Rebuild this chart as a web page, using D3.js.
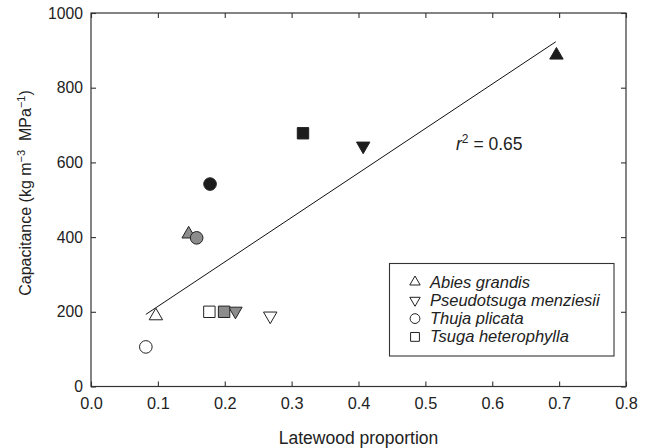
<!DOCTYPE html>
<html><head><meta charset="utf-8">
<script src="https://cdn.jsdelivr.net/npm/d3@7"></script>
<style>
body{margin:0;background:#fff;}
svg{display:block;}
svg text{font-family:"Liberation Sans",Arial,sans-serif;}
</style></head>
<body><svg id="c" width="651" height="448"></svg>
<script>
// ---- data ----
const species = ["Abies grandis", "Pseudotsuga menziesii", "Thuja plicata", "Tsuga heterophylla"];
const groups = ["open", "grey", "black"];
const pointLatewood    = [0.097, 0.146, 0.696, 0.268, 0.216, 0.407, 0.082, 0.158, 0.178, 0.177, 0.199, 0.317];
const pointCapacitance = [189,   408,   887,   189,   202,   644,   106,   398,   542,   200,   200,   678];
const pointSpecies     = [0,     0,     0,     1,     1,     1,     2,     2,     2,     3,     3,     3];
const pointGroup       = [0,     1,     2,     0,     1,     2,     0,     1,     2,     0,     1,     2];
const fitX = [0.082, 0.695];
const fitY = [193, 923];
const xTicks = [0, 0.1, 0.2, 0.3, 0.4, 0.5, 0.6, 0.7, 0.8];
const yTicks = [0, 200, 400, 600, 800, 1000];
const r2Label = "0.65";

// ---- layout ----
const svg = d3.select("#c");
const L = 91, R = 626, T = 13, B = 386.5;
const x = d3.scaleLinear().domain([0, 0.8]).range([L, R]);
const y = d3.scaleLinear().domain([0, 1000]).range([B, T]);
const fills = {open: "#ffffff", grey: "#8c8c8c", black: "#1c1c1c"};
const textCol = "#222";
const FF = "'Liberation Sans', Arial, sans-serif";

const symType = [d3.symbolTriangle, d3.symbolTriangle, d3.symbolCircle, d3.symbolSquare];
const symRot = [0, 180, 0, 0];
const symSize = [78, 78, 125, 130];

// axes
const gx = svg.append("g").attr("transform", `translate(0,${B})`)
  .call(d3.axisBottom(x).tickValues(xTicks).tickFormat(d3.format(".1f")).tickSizeInner(-5).tickSizeOuter(0).tickPadding(11));
const gy = svg.append("g").attr("transform", `translate(${L},0)`)
  .call(d3.axisLeft(y).tickValues(yTicks).tickFormat(d3.format("d")).tickSizeInner(-5).tickSizeOuter(0).tickPadding(8));
const gxt = svg.append("g").attr("transform", `translate(0,${T})`)
  .call(d3.axisTop(x).tickValues(xTicks).tickFormat("").tickSizeInner(-5).tickSizeOuter(0));
const gyr = svg.append("g").attr("transform", `translate(${R},0)`)
  .call(d3.axisRight(y).tickValues(yTicks).tickFormat("").tickSizeInner(-5).tickSizeOuter(0));
[gx, gy, gxt, gyr].forEach(g => {
  g.attr("font-family", FF);
  g.select(".domain").remove();
  g.selectAll("line").attr("stroke", "#333").attr("stroke-width", 1.1);
  g.selectAll("text").attr("fill", textCol);
});
gx.selectAll("text").style("font-size", "16.3px");
gy.selectAll("text").style("font-size", "15.7px");
svg.append("rect").attr("x", L).attr("y", T).attr("width", R - L).attr("height", B - T)
  .attr("fill", "none").attr("stroke", "#333").attr("stroke-width", 1.2);

// regression line
svg.append("line")
  .attr("x1", x(fitX[0])).attr("y1", y(fitY[0]))
  .attr("x2", x(fitX[1])).attr("y2", y(fitY[1]))
  .attr("stroke", "#111").attr("stroke-width", 1);

// points
const pts = pointLatewood.map((v, i) => ({x: v, y: pointCapacitance[i], s: pointSpecies[i], g: pointGroup[i]}));
svg.append("g").selectAll("path").data(pts).join("path")
  .attr("d", d => d3.symbol(symType[d.s], symSize[d.s])())
  .attr("transform", d => `translate(${x(d.x)},${y(d.y)}) rotate(${symRot[d.s]})`)
  .attr("fill", d => fills[groups[d.g]])
  .attr("stroke", "#222").attr("stroke-width", 1);

// r^2 label
const rt = svg.append("text").attr("x", 456).attr("y", 150).attr("fill", textCol)
  .style("font-size", "17.5px");
rt.append("tspan").attr("font-style", "italic").text("r");
rt.append("tspan").attr("dy", -7).style("font-size", "12px").text("2");
rt.append("tspan").attr("dy", 7).text(" = " + r2Label);

// legend
const lg = svg.append("g");
lg.append("rect").attr("x", 389.5).attr("y", 263.5).attr("width", 224.5).attr("height", 92.5)
  .attr("fill", "#fff").attr("stroke", "#333").attr("stroke-width", 1.1);
species.forEach((sp, i) => {
  const cy = 282 + i * 18.3;
  lg.append("path")
    .attr("d", d3.symbol(symType[i], symSize[i] * 0.6)())
    .attr("transform", `translate(415,${cy}) rotate(${symRot[i]})`)
    .attr("fill", "#fff").attr("stroke", "#222").attr("stroke-width", 1);
  lg.append("text").attr("x", 430).attr("y", cy + 5.5).attr("fill", textCol)
    .style("font-size", "16.5px").style("font-style", "italic").text(sp);
});

// axis titles
svg.append("text").attr("x", (L + R) / 2).attr("y", 444).attr("text-anchor", "middle")
  .attr("fill", textCol).style("font-size", "17.5px").text("Latewood proportion");
const yt = svg.append("text").attr("transform", "translate(31,193) rotate(-90)")
  .attr("text-anchor", "middle").attr("fill", textCol).style("font-size", "16px");
yt.append("tspan").text("Capacitance (kg m");
yt.append("tspan").attr("dy", -6.5).style("font-size", "11px").text("\u22123");
yt.append("tspan").attr("dy", 6.5).text("\u00a0 MPa");
yt.append("tspan").attr("dy", -6.5).style("font-size", "11px").text("\u22121");
yt.append("tspan").attr("dy", 6.5).text(")");
</script></body></html>
